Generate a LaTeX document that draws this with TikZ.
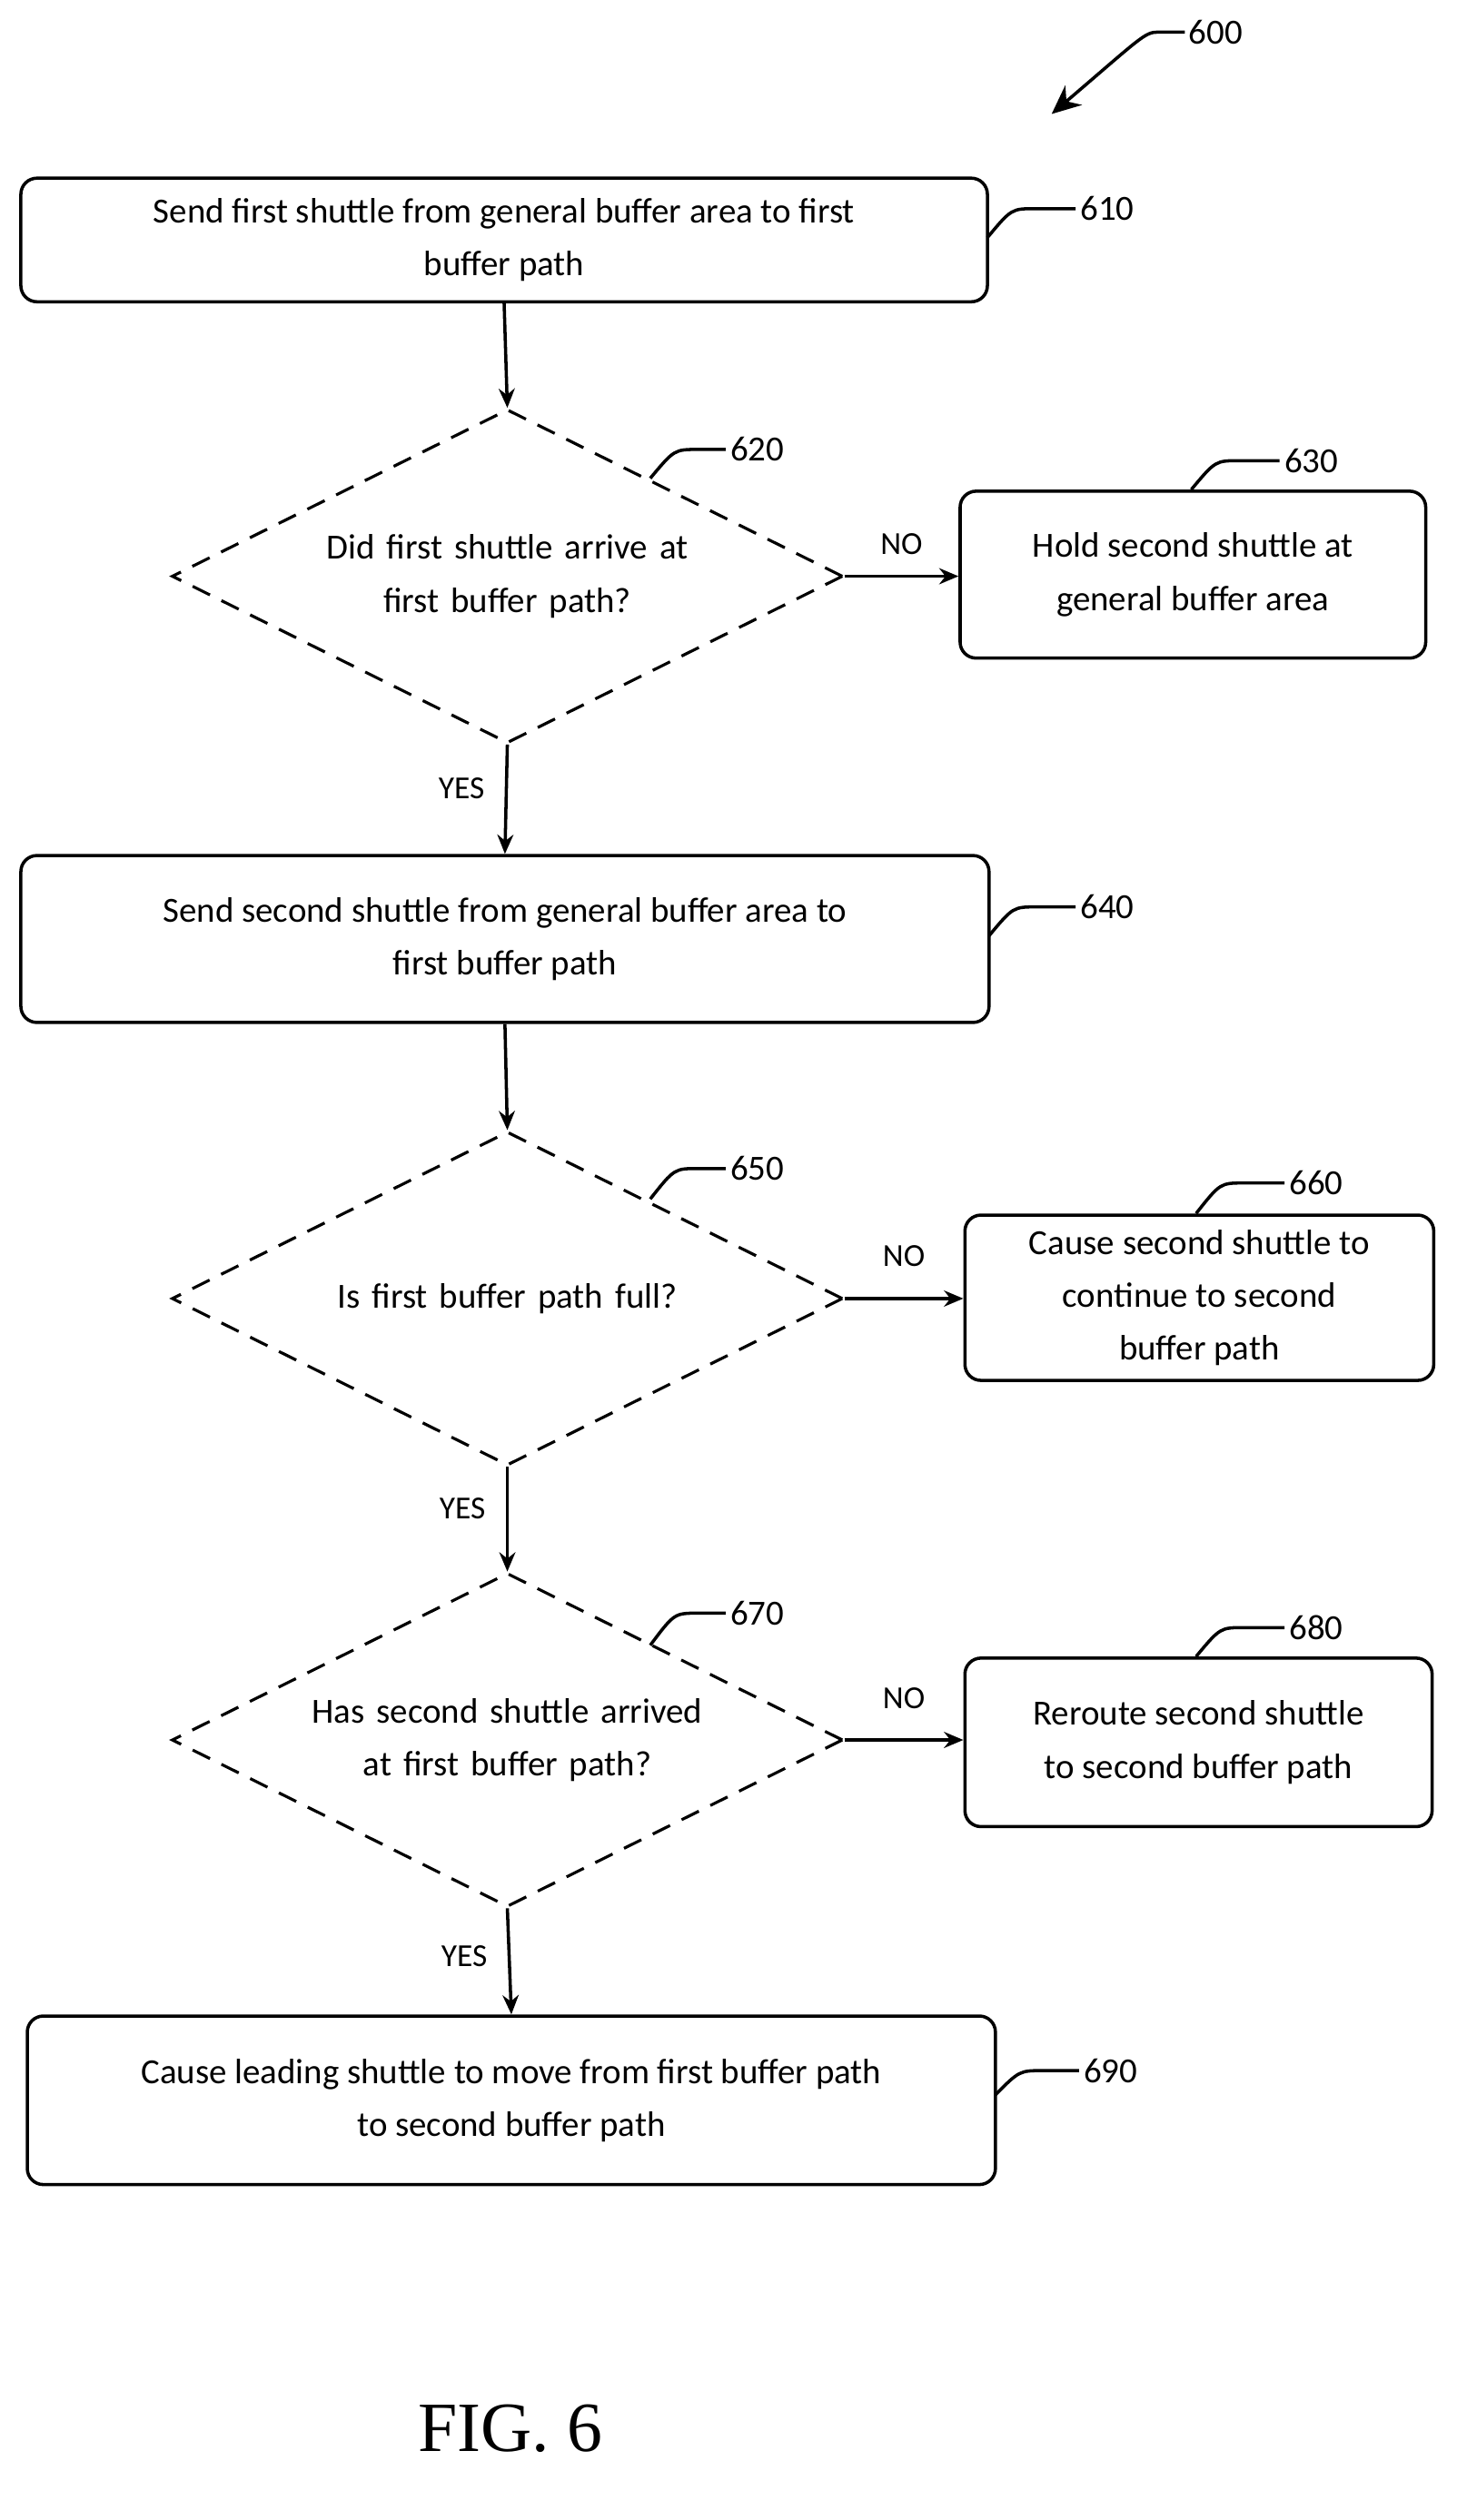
\documentclass[tikz,border=0pt]{standalone}
\usepackage{fontspec}
\setmainfont{Carlito}
\newfontfamily\figfont{Liberation Serif}
\usetikzlibrary{shapes.geometric,arrows.meta}
\tikzset{
  proc/.style={draw,rounded corners=5pt,line width=1pt,align=center,font=\fontsize{11}{16.5}\selectfont},
  test/.style={diamond,draw,dash pattern=on 6pt off 4pt,line width=0.9pt,aspect=2,inner sep=0pt,
    minimum width=209pt,minimum height=104pt,text width=150pt,align=center,font=\fontsize{11}{16.5}\selectfont},
  flow/.style={-{Stealth[length=6pt,width=5pt]},line width=1pt},
  lead/.style={line width=1pt},
  num/.style={font=\fontsize{11}{13}\selectfont,anchor=west,inner sep=1pt},
  ans/.style={font=\fontsize{10}{12}\selectfont}
}
\begin{document}
\begin{tikzpicture}[x=0.5pt,y=-0.5pt]
\useasboundingbox (0,0) rectangle (907,1570);
% boxes
\node[proc,minimum width=301pt,minimum height=38.5pt] (s610) at (314,149.5) {Send first shuttle from general buffer area to first\\buffer path};
\node[test] (d620) at (316,359) {Did first shuttle arrive at\\first buffer path?};
\node[proc,minimum width=145pt,minimum height=52pt] (s630) at (743,358) {Hold second shuttle at\\general buffer area};
\node[proc,minimum width=301.5pt,minimum height=52pt] (s640) at (314.5,585) {Send second shuttle from general buffer area to\\first buffer path};
\node[test] (d650) at (316,809) {Is first buffer path full?};
\node[proc,minimum width=146pt,minimum height=51.5pt] (s660) at (747,808.5) {Cause second shuttle to\\continue to second\\buffer path};
\node[test] (d670) at (316,1084) {Has second shuttle arrived\\at first buffer path?};
\node[proc,minimum width=145.5pt,minimum height=52.5pt] (s680) at (746.5,1085.5) {Reroute second shuttle\\to second buffer path};
\node[proc,minimum width=301.5pt,minimum height=52.5pt] (s690) at (318.5,1308.5) {Cause leading shuttle to move from first buffer path\\to second buffer path};
% connectors
\draw[flow] (s610.south) -- (d620.north);
\draw[flow] (d620.east) -- node[ans,above=3pt]{NO} (s630.west |- d620.east);
\draw[flow] (d620.south) -- node[ans,left=3pt,pos=0.4]{YES} (s640.north);
\draw[flow] (s640.south) -- (d650.north);
\draw[flow] (d650.east) -- node[ans,above=6pt]{NO} (s660.west |- d650.east);
\draw[flow] (d650.south) -- node[ans,left=3pt,pos=0.4]{YES} (d670.north);
\draw[flow] (d670.east) -- node[ans,above=6pt]{NO} (s680.west |- d670.east);
\draw[flow] (d670.south) -- node[ans,left=3pt,pos=0.45]{YES} (s690.north);
% reference numerals
\foreach \bx/\by/\lx/\ly/\lb in {615/148/670/130/610, 405/298/452/280/620, 742/305/797/287/630,
  616/583/670/565/640, 405/747/452/728/650, 745/756/800/737/660, 405/1025/452/1005/670,
  745/1032/800/1014/680, 620/1305/672/1290/690}{
  \coordinate (p\lb) at (\bx,\by);
  \coordinate (q\lb) at (\lx,\ly);
  \draw[lead] (p\lb) .. controls (\bx+15,\ly) .. (\bx+30,\ly) -- (q\lb) node[num]{\lb};
}
\coordinate (q600) at (738,20);
\coordinate (p600) at (655,71);
\draw[flow,-{Stealth[length=9pt,width=8pt]}] (q600) -- (721,20) .. controls (713,20) and (710,24) .. (p600);
\node[num] (n600) at (q600) {600};
\node[font=\fontsize{22}{26}\selectfont\figfont] (fig) at (318,1513) {FIG. 6};
\end{tikzpicture}
\end{document}
